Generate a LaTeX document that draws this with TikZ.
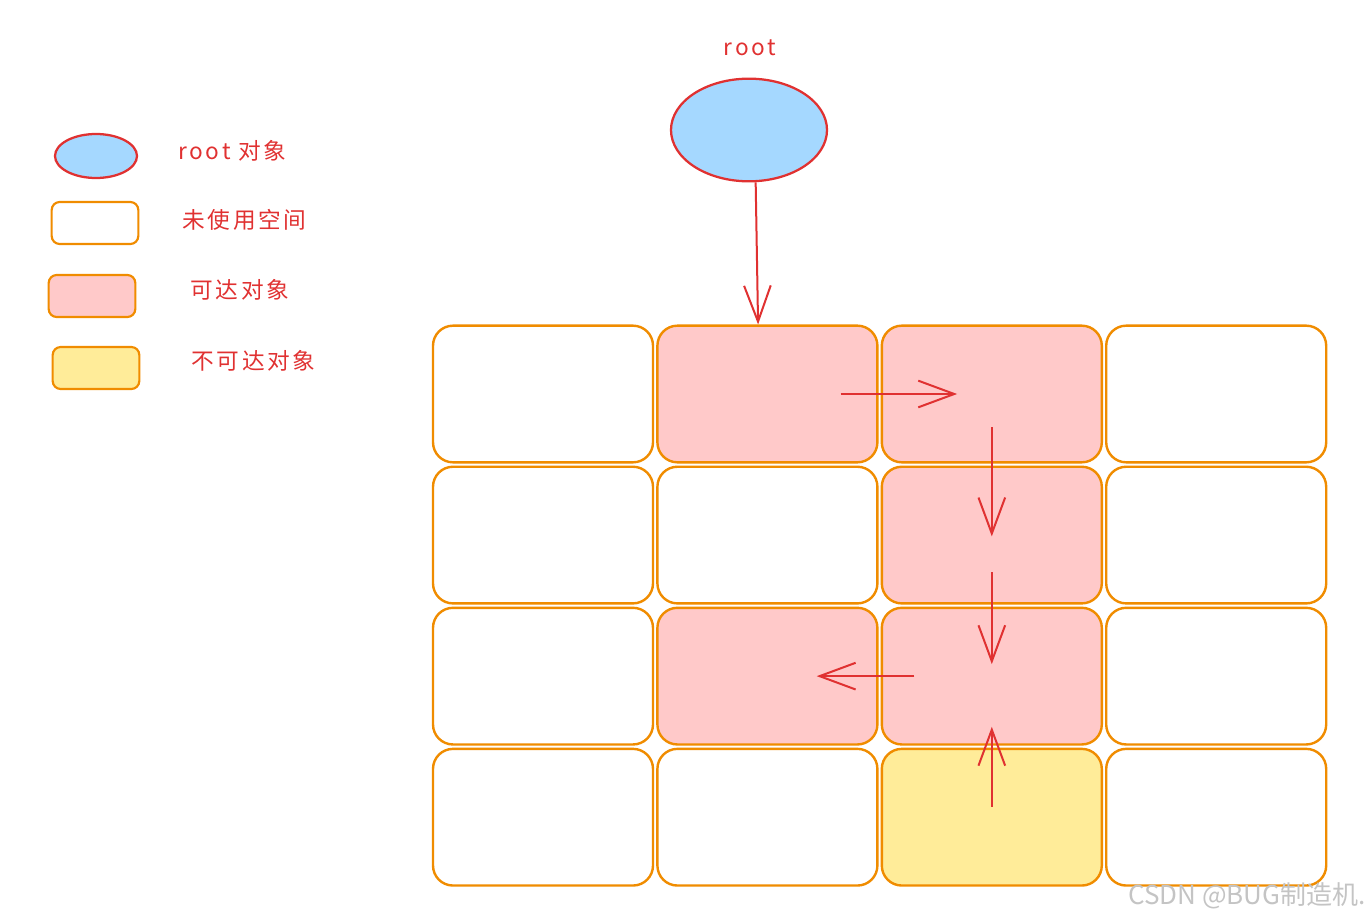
\documentclass[tikz,border=0pt]{standalone}
\usepackage{fontspec}
\usepackage{tikz}
\usetikzlibrary{arrows.meta,positioning,shapes.geometric}
\newfontfamily\cjk{Noto Sans CJK SC}[LetterSpace=12]
\newfontfamily\wmfont{Noto Sans CJK SC}
\definecolor{inkred}{HTML}{E03131}
\definecolor{edge}{HTML}{F08C00}
\definecolor{skyblue}{HTML}{A5D8FF}
\definecolor{reach}{HTML}{FFC9C9}
\definecolor{unreach}{HTML}{FFEC99}
\definecolor{mark}{HTML}{C4C4C4}

\begin{document}
\begin{tikzpicture}[
  x=0.75pt,y=-0.75pt,
  >={Straight Barb[length=27pt,width=20pt]},
  cell/.style={draw=edge,line width=1.8pt,rounded corners=15pt,fill=white,
               minimum width=165pt,minimum height=102.5pt,inner sep=0pt},
  legbox/.style={draw=edge,line width=1.6pt,rounded corners=6pt,fill=white,
                 minimum width=65pt,minimum height=31.5pt,inner sep=0pt},
  rootobj/.style={ellipse,draw=inkred,line width=1.7pt,fill=skyblue,inner sep=0pt},
  label/.style={font=\cjk\fontsize{17}{20}\selectfont,text=inkred,anchor=west,inner sep=0pt},
  ref/.style={->,draw=inkred,line width=1.5pt}
]
\useasboundingbox (0,0) rectangle (1370,920);

% legend
\node[rootobj,minimum width=61.5pt,minimum height=33pt] (legroot) at (96,156) {};
\node[label] (legroottxt) at (178,151) {root 对象};
\node[legbox] (legfree) at (95,223) {};
\node[label] (legfreetxt) at (182,220) {未使用空间};
\node[legbox,fill=reach] (legreach) at (92,296) {};
\node[label] (legreachtxt) at (190,290) {可达对象};
\node[legbox,fill=unreach] (legunreach) at (96,368) {};
\node[label] (legunreachtxt) at (191,361) {不可达对象};

% root
\node[rootobj,minimum width=117pt,minimum height=77pt] (root) at (749,130) {};
\node[label,anchor=center] (roottxt) at (750,48) {root};

% heap
\node[cell] (c11) at (543,394) {};
\node[cell,fill=reach,right=1.5pt of c11] (c12) {};
\node[cell,fill=reach,right=1.5pt of c12] (c13) {};
\node[cell,right=1.5pt of c13] (c14) {};
\node[cell,below=1.5pt of c11] (c21) {};
\node[cell,right=1.5pt of c21] (c22) {};
\node[cell,fill=reach,right=1.5pt of c22] (c23) {};
\node[cell,right=1.5pt of c23] (c24) {};
\node[cell,below=1.5pt of c21] (c31) {};
\node[cell,fill=reach,right=1.5pt of c31] (c32) {};
\node[cell,fill=reach,right=1.5pt of c32] (c33) {};
\node[cell,right=1.5pt of c33] (c34) {};
\node[cell,below=1.5pt of c31] (c41) {};
\node[cell,right=1.5pt of c41] (c42) {};
\node[cell,fill=unreach,right=1.5pt of c42] (c43) {};
\node[cell,right=1.5pt of c43] (c44) {};

\draw[ref] ([xshift=5pt]root.south) -- ([xshift=-7pt]c12.north);
\draw[ref] ([xshift=55pt]c12.center) -- ([xshift=-26pt]c13.center);
\draw[ref] ([yshift=-25pt]c13.center) -- ([yshift=-1pt]c23.center);
\draw[ref] ([yshift=-28pt]c23.center) -- ([yshift=9pt]c33.center);
\draw[ref] ([xshift=-58pt]c33.center) -- ([xshift=37pt]c32.center);
\draw[ref] ([yshift=8pt]c43.center) -- ([yshift=-38pt]c33.center);

\node[font=\wmfont\fontsize{19.5}{22}\selectfont,text=mark,anchor=east,inner sep=0pt] (wm) at (1366,896) {CSDN @BUG制造机.};
\end{tikzpicture}
\end{document}
